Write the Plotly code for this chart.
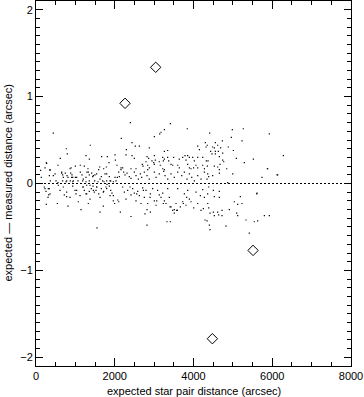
import plotly.graph_objects as go

# small dots: expected star-pair distance (arcsec) and residual (arcsec)
dot_x = [
    440, 1380, 770, 795, 617, 1270, 1355, 1668, 1811, 2007, 2015, 262, 559, 229, 356, 890, 1000, 1125, 1227,
    1320, 1592, 1617, 1718, 1786, 1854, 2057, 2159,
    2396, 3412, 3260, 3175, 3142, 3843, 3006, 2167, 2438, 2523, 2625, 2878, 4107, 4149, 2294, 3260, 3344, 4300,
    2286, 2438, 2497, 2820, 2862, 3005, 3030, 2946, 2990, 3218, 3260, 3235, 3344, 3370, 3497, 3640, 3726, 3785,
    3852, 3810, 3895, 3980, 4021, 4107, 4234, 2794, 2837, 2700, 2718, 3005, 3132, 3157, 3429, 3472, 3599, 3640,
    3852, 3895, 3937, 4002, 4064, 4107, 4234, 4277, 2413, 2540, 2837, 2878, 3218, 3260, 2159, 2201,
    5266, 4986, 5926, 4411, 4961, 5233, 4733, 4555, 4351, 4318, 4487, 4529, 4614, 4690, 4885, 4436, 4470, 4555,
    4555, 4631, 4657, 4741, 5012, 4741, 4767, 4326, 4369, 5088, 5520, 5291, 6282, 4529, 4614, 4351, 4674, 4657,
    4843, 5875,
    135, 339, 440, 652, 677, 745, 787, 813, 881, 914, 932, 999, 1168, 1126, 1270, 1295, 1354, 1414, 1440, 1498,
    1540, 1659, 1795, 1862, 2066, 2117, 2100, 364, 508, 559, 677, 762, 871, 932, 1067, 1186, 1270, 1354, 1490,
    1575, 1693, 1727, 1795, 1897, 1964, 2032,
    211, 254, 338, 322, 305, 262, 541, 719, 779, 813, 932, 991, 1016, 1075, 1143, 1186, 1227, 1287, 1270, 1354,
    1405, 1481, 1524, 1592, 1329, 1372, 1448, 1541, 1659, 1719, 1778, 1803, 1862, 1897, 1930, 1964, 1998, 2075,
    2100, 2142, 1710, 1626, 1549,
    2227, 2261, 2311, 2370, 2413, 2497, 2540, 2599, 2650, 2684, 2751, 2820, 2878,
    3005, 3048, 3132, 3244, 3277, 3345, 3429, 3513, 3599, 3701, 3768, 3835, 3895, 3955, 4022, 4107, 4191, 4276,
    2201, 2244, 2286, 2329, 2413, 2455, 2497, 2540,
    2583, 2625, 2709, 2751, 2794, 2837, 2904, 2963, 3005, 3048,
    2667, 2820, 2413, 2768, 2904, 2820,
    3090, 3132, 3175, 3218, 3260, 3302, 3345, 3386, 3429, 3472, 3513, 3556,
    3599, 3666, 3726, 3768, 3810, 3853, 3895, 3937, 4006, 4064, 4107, 4174, 4234, 4276,
    3327, 3411, 4293, 3513, 3590, 4191, 4250,
    4361, 4386, 4343, 4487, 4657, 4996, 5741, 6122, 4869,
    4386, 4504, 4360, 4656, 4529, 4656, 5606, 5189, 5037, 5122, 5232,
    4361, 4386, 4420, 4504, 4529, 4614, 4640, 4724, 4724, 4910, 5097, 5122,
    4343, 4403, 4420, 4826, 5334, 5545, 5630, 5800, 5926, 5418,
    5884, 6139, 5613, 119,
    271, 356, 483, 652, 694, 779, 864, 906, 948, 313, 356, 229, 567, 610, 694, 779, 864,
    1033, 1118, 1202, 1287, 1372, 1456, 1541, 1626, 1710, 1795, 1880, 1964,
    1033, 1202, 1329, 1456, 1626, 1753, 1880, 2007,
    2388, 2557, 2726, 2896, 3066, 3234, 3404, 3574, 3742, 3827,
]
dot_y = [
    0.58, 0.44, 0.40, 0.34, 0.29, 0.32, 0.28, 0.31, 0.31, 0.33, 0.27, 0.24, 0.21, 0.18, 0.16, 0.18, 0.20, 0.21, 0.20,
    0.17, 0.16, 0.19, 0.17, 0.19, 0.24, 0.21, 0.18,
    0.70, 0.69, 0.62, 0.59, 0.57, 0.63, 0.54, 0.52, 0.47, 0.43, 0.43, 0.41, 0.43, 0.39, 0.39, 0.37, 0.38, 0.47,
    0.33, 0.32, 0.29, 0.31, 0.29, 0.32, 0.27, 0.26, 0.24, 0.30, 0.28, 0.26, 0.30, 0.26, 0.30, 0.28, 0.30, 0.32,
    0.32, 0.27, 0.30, 0.30, 0.26, 0.30, 0.30, 0.25, 0.21, 0.22, 0.20, 0.22, 0.25, 0.21, 0.22, 0.21, 0.21, 0.18,
    0.22, 0.18, 0.17, 0.18, 0.21, 0.18, 0.21, 0.17, 0.17, 0.17, 0.16, 0.18, 0.17, 0.16, 0.16, 0.18,
    0.63, 0.62, 0.57, 0.58, 0.53, 0.49, 0.49, 0.47, 0.44, 0.42, 0.42, 0.41, 0.44, 0.41, 0.42, 0.37, 0.34, 0.37,
    0.34, 0.37, 0.31, 0.35, 0.38, 0.27, 0.25, 0.26, 0.26, 0.29, 0.28, 0.24, 0.32, 0.20, 0.19, 0.20, 0.22, 0.16,
    0.17, 0.17,
    0.07, 0.09, 0.09, 0.12, 0.10, 0.12, 0.09, 0.07, 0.12, 0.10, 0.07, 0.07, 0.10, 0.13, 0.07, 0.13, 0.10, 0.12, 0.08, 0.10,
    0.11, 0.08, 0.11, 0.08, 0.07, 0.08, 0.13, 0.03, 0.03, 0.01, 0.03, 0.02, 0.03, 0.02, 0.03, 0.03, 0.02, 0.03, 0.03,
    0.02, 0.03, 0.02, 0.03, 0.03, 0.02, 0.03,
    -0.04, -0.09, -0.06, -0.13, -0.16, -0.24, -0.23, -0.13, -0.15, -0.26, -0.03, -0.08, -0.12, -0.21, -0.30, -0.04,
    -0.08, -0.02, -0.12, -0.09, -0.06, -0.10, -0.08, -0.12, -0.23, -0.02, -0.03, -0.04, -0.06, -0.09, -0.04, -0.01,
    -0.03, -0.08, -0.11, -0.14, -0.23, -0.19, -0.21, -0.33, -0.26, -0.33, -0.51,
    0.13, 0.10, 0.12, 0.08, 0.06, 0.13, 0.09, 0.05, 0.11, 0.07, 0.13, 0.09, 0.05,
    0.13, 0.07, 0.11, 0.14, 0.09, 0.05, 0.11, 0.07, 0.13, 0.09, 0.13, 0.05, 0.11, 0.07, 0.03, 0.09, 0.05, 0.13,
    -0.04, -0.10, -0.18, -0.08, -0.13, -0.06, -0.11, -0.20,
    -0.09, -0.14, -0.05, -0.16, -0.08, -0.23, -0.12, -0.06, -0.20, -0.25,
    -0.23, -0.30, -0.38, -0.35, -0.33, -0.48,
    -0.08, -0.13, -0.16, -0.11, -0.20, -0.23, -0.06, -0.16, -0.27, -0.31, -0.34, -0.23,
    -0.06, -0.27, -0.21, -0.12, -0.25, -0.08, -0.18, -0.21, -0.28, -0.10, -0.23, -0.14, -0.07, -0.16,
    -0.44, -0.44, -0.42, -0.30, -0.31, -0.31, -0.29,
    0.11, 0.08, 0.05, 0.09, 0.12, 0.11, 0.07, 0.10, 0.01,
    -0.04, -0.08, -0.12, -0.09, -0.15, -0.16, -0.12, -0.15, -0.21, -0.24, -0.23,
    -0.23, -0.28, -0.34, -0.33, -0.37, -0.33, -0.36, -0.31, -0.37, -0.30, -0.34, -0.37,
    -0.43, -0.48, -0.53, -0.49, -0.42, -0.44, -0.43, -0.37, -0.37, -0.57,
    0.17, 0.10, -0.11, 0.15,
    0.23, 0.15, 0.11, 0.13, 0.07, 0.03, 0.17, 0.07, 0.03, -0.06, -0.12, -0.06, -0.02, -0.08, -0.04, -0.10, -0.16,
    -0.08, -0.14, -0.04, -0.12, -0.18, -0.08, -0.04, -0.16, -0.10, -0.06, -0.14, -0.20,
    0.07, 0.05, 0.13, 0.09, 0.05, 0.11, 0.03, 0.07,
    -0.04, -0.12, -0.08, -0.16, -0.20, -0.23, -0.27, -0.31, -0.23, -0.16,
]

# outliers drawn as open diamonds
outlier_x = [2261, 3040, 4479, 5512]
outlier_y = [0.923, 1.337, -1.786, -0.77]

# zero reference line
ref_x = [0, 8000]
ref_y = [0, 0]

x_ticks = [0, 2000, 4000, 6000, 8000]
y_ticks = [-2, -1, 0, 1, 2]

x_title = "expected star pair distance (arcsec)"
y_title = "expected \u2014 measured distance (arcsec)"

fig = go.Figure()
fig.add_trace(go.Scatter(x=ref_x, y=ref_y, mode="lines",
                         line=dict(color="black", width=1, dash="2px,2px"),
                         hoverinfo="skip", showlegend=False))
fig.add_trace(go.Scatter(x=dot_x, y=dot_y, mode="markers",
                         marker=dict(symbol="square", size=1.2, color="black", line=dict(width=0)),
                         showlegend=False))
fig.add_trace(go.Scatter(x=outlier_x, y=outlier_y, mode="markers",
                         marker=dict(symbol="diamond-open", size=8, color="black",
                                     line=dict(width=1, color="black")),
                         showlegend=False))

font = dict(family="Liberation Sans, Arial, sans-serif", size=11, color="black")
axis_common = dict(showgrid=False, zeroline=False, showline=True, linecolor="black", linewidth=1,
                   mirror="allticks", ticks="inside", tickcolor="black", tickwidth=1,
                   tickfont=font, automargin=False, ticklabeloverflow="allow")

fig.update_xaxes(range=[0, 8000], tickvals=x_ticks, ticklen=8,
                 minor=dict(dtick=500, ticks="inside", ticklen=4, tickcolor="black"),
                 **axis_common)
fig.update_yaxes(range=[-2.1, 2.1], tickvals=y_ticks, ticklen=7,
                 minor=dict(dtick=0.1, ticks="inside", ticklen=4, tickcolor="black"),
                 **axis_common)

fig.update_layout(
    width=364, height=397, margin=dict(l=36, r=13, t=1, b=31),
    paper_bgcolor="white", plot_bgcolor="white", font=font, showlegend=False,
    annotations=[
        dict(text=x_title, xref="paper", yref="paper", x=0.5, y=0, yshift=-25,
             xanchor="center", yanchor="middle", showarrow=False, font=font),
        dict(text=y_title, xref="paper", yref="paper", x=0, y=0.5, xshift=-29,
             xanchor="center", yanchor="middle", textangle=-90, showarrow=False, font=font),
    ],
)

fig.write_html("out.html", config={"displayModeBar": False},
               post_script="document.body.style.margin='0';")
